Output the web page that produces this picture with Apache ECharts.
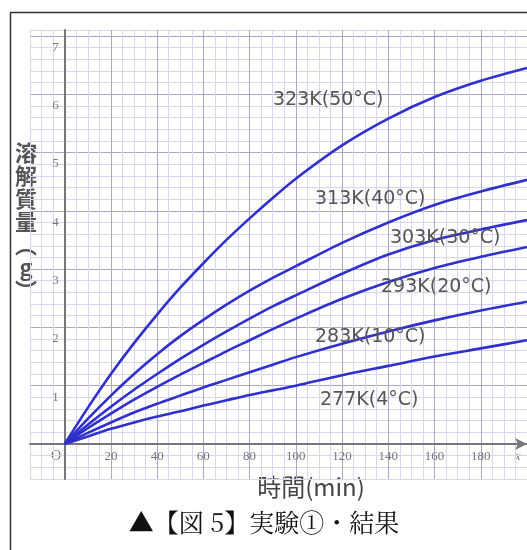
<!DOCTYPE html>
<html>
<head>
<meta charset="utf-8">
<script src="https://cdn.jsdelivr.net/npm/echarts@6/dist/echarts.min.js"></script>
<style>
  html, body { margin: 0; padding: 0; background: #fff; }
  #chart { width: 527px; height: 550px; }
</style>
</head>
<body>
<div id="chart"></div>
<script>
// 時間(min)
var times = [0, 10, 20, 30, 40, 50, 60, 70, 80, 90, 100, 120, 140, 160, 180, 200];
// 溶解質量(g) 各温度
var s323 = [0, 0.62, 1.2, 1.73, 2.22, 2.68, 3.1, 3.5, 3.87, 4.22, 4.55, 5.12, 5.58, 5.95, 6.23, 6.45];
var s313 = [0, 0.43, 0.83, 1.2, 1.54, 1.85, 2.13, 2.39, 2.63, 2.85, 3.05, 3.45, 3.8, 4.1, 4.33, 4.53];
var s303 = [0, 0.33, 0.64, 0.93, 1.2, 1.46, 1.7, 1.93, 2.15, 2.36, 2.55, 2.92, 3.25, 3.5, 3.68, 3.84];
var s293 = [0, 0.27, 0.52, 0.76, 0.98, 1.19, 1.39, 1.59, 1.78, 1.97, 2.15, 2.49, 2.78, 3.02, 3.21, 3.38];
var s283 = [0, 0.19, 0.37, 0.54, 0.69, 0.83, 0.97, 1.1, 1.23, 1.36, 1.49, 1.72, 1.93, 2.12, 2.29, 2.44];
var s277 = [0, 0.13, 0.26, 0.37, 0.47, 0.56, 0.66, 0.75, 0.84, 0.92, 1.0, 1.18, 1.34, 1.5, 1.64, 1.78];
var seriesNames = ["323K(50°C)", "313K(40°C)", "303K(30°C)", "293K(20°C)", "283K(10°C)", "277K(4°C)"];
var seriesValues = [s323, s313, s303, s293, s283, s277];
var xTickLabels = [20, 40, 60, 80, 100, 120, 140, 160, 180];
var yTickLabels = [1, 2, 3, 4, 5, 6, 7];

var minorColor = "#d6d6ee";
var majorColor = "#a8a8c6";

var myChart = echarts.init(document.getElementById("chart"));

var list = [];
for (var i = 0; i < seriesValues.length; i++) {
  var pts = [];
  for (var j = 0; j < times.length; j++) {
    pts.push([times[j], seriesValues[i][j]]);
  }
  list.push({
    name: seriesNames[i],
    type: "line",
    data: pts,
    smooth: 0.3,
    showSymbol: false,
    lineStyle: { width: 2.6, color: "#3030cc" },
    z: 3,
  });
}

// グラフ中の注記
function label(text, x, y) {
  return {
    type: "text",
    x: x,
    y: y,
    z: 10,
    style: {
      text: text,
      fontFamily: "DejaVu Sans",
      fontSize: 19,
      fill: "#555",
      align: "left",
      verticalAlign: "middle",
    },
  };
}

myChart.setOption({
  animation: false,
  backgroundColor: "#fff",
  grid: {
    left: 30,
    right: 0,
    top: 30,
    bottom: 71,
    outerBoundsMode: "none",
  },
  xAxis: {
    type: "value",
    min: -15,
    max: 200,
    interval: 5,
    position: "bottom",
    offset: -35, // 0の位置まで軸を上げる
    axisLine: {
      onZero: false,
      symbol: ["none", "arrow"],
      symbolSize: [9, 12],
      lineStyle: { color: "#777", width: 2 },
    },
    axisTick: { show: false },
    axisLabel: {
      fontFamily: "Liberation Serif",
      fontSize: 13,
      color: "#777",
      margin: 6,
      formatter: function (v) {
        var r = Math.round(v);
        return xTickLabels.indexOf(r) >= 0 && Math.abs(v - r) < 1e-6 ? String(r) : "";
      },
    },
    splitLine: {
      show: true,
      lineStyle: { color: [minorColor, minorColor, minorColor, majorColor], width: 1 },
    },
  },
  yAxis: {
    type: "value",
    min: -0.6,
    max: 7.1,
    interval: 0.2,
    position: "left",
    offset: -34.7, // 0の位置まで軸を寄せる
    axisLine: {
      onZero: false,
      lineStyle: { color: "#777", width: 2 },
    },
    axisTick: { show: false },
    axisLabel: {
      fontFamily: "Liberation Serif",
      fontSize: 13,
      color: "#777",
      margin: 6,
      verticalAlign: "top",
      padding: [5, 0, 0, 0],
      formatter: function (v) {
        var r = Math.round(v);
        return yTickLabels.indexOf(r) >= 0 && Math.abs(v - r) < 1e-6 ? String(r) : "";
      },
    },
    splitLine: {
      show: true,
      lineStyle: { color: [minorColor, minorColor, minorColor, majorColor, minorColor], width: 1 },
    },
  },
  series: list,
  graphic: [
    {
      type: "rect",
      shape: { x: 10.5, y: 12.5, width: 530, height: 560 },
      style: { fill: "none", stroke: "#333", lineWidth: 1.5 },
      z: 20,
    },
    label("323K(50°C)", 273, 100),
    label("313K(40°C)", 315, 199),
    label("303K(30°C)", 390, 238),
    label("293K(20°C)", 381, 287),
    label("283K(10°C)", 315, 337),
    label("277K(4°C)", 320, 400),
    {
      type: "text",
      x: 56,
      y: 456,
      style: { text: "O", fontFamily: "Liberation Serif", fontSize: 14, fill: "#777", align: "center", verticalAlign: "middle" },
    },
    {
      type: "text",
      x: 518,
      y: 457,
      style: { text: "x", fontFamily: "Liberation Serif", fontStyle: "italic", fontSize: 12, fill: "#777", align: "center", verticalAlign: "middle" },
    },
    {
      type: "text",
      x: 26,
      y: 141,
      style: {
        text: "溶\n解\n質\n量\n︵\ng\n︶",
        fontFamily: "Noto Sans CJK JP",
        fontWeight: "bold",
        fontSize: 22,
        lineHeight: 23,
        fill: "#555",
        align: "center",
        verticalAlign: "top",
      },
    },
    {
      type: "text",
      x: 311,
      y: 487,
      style: { text: "時間(min)", fontFamily: "Noto Sans CJK JP", fontSize: 24, fill: "#444", align: "center", verticalAlign: "middle" },
    },
    {
      type: "text",
      x: 264,
      y: 522,
      style: { text: "▲【図 5】実験①・結果", fontFamily: "Noto Serif CJK JP, Noto Sans CJK JP", fontSize: 25, fill: "#111", align: "center", verticalAlign: "middle" },
    },
  ],
});
</script>
</body>
</html>
